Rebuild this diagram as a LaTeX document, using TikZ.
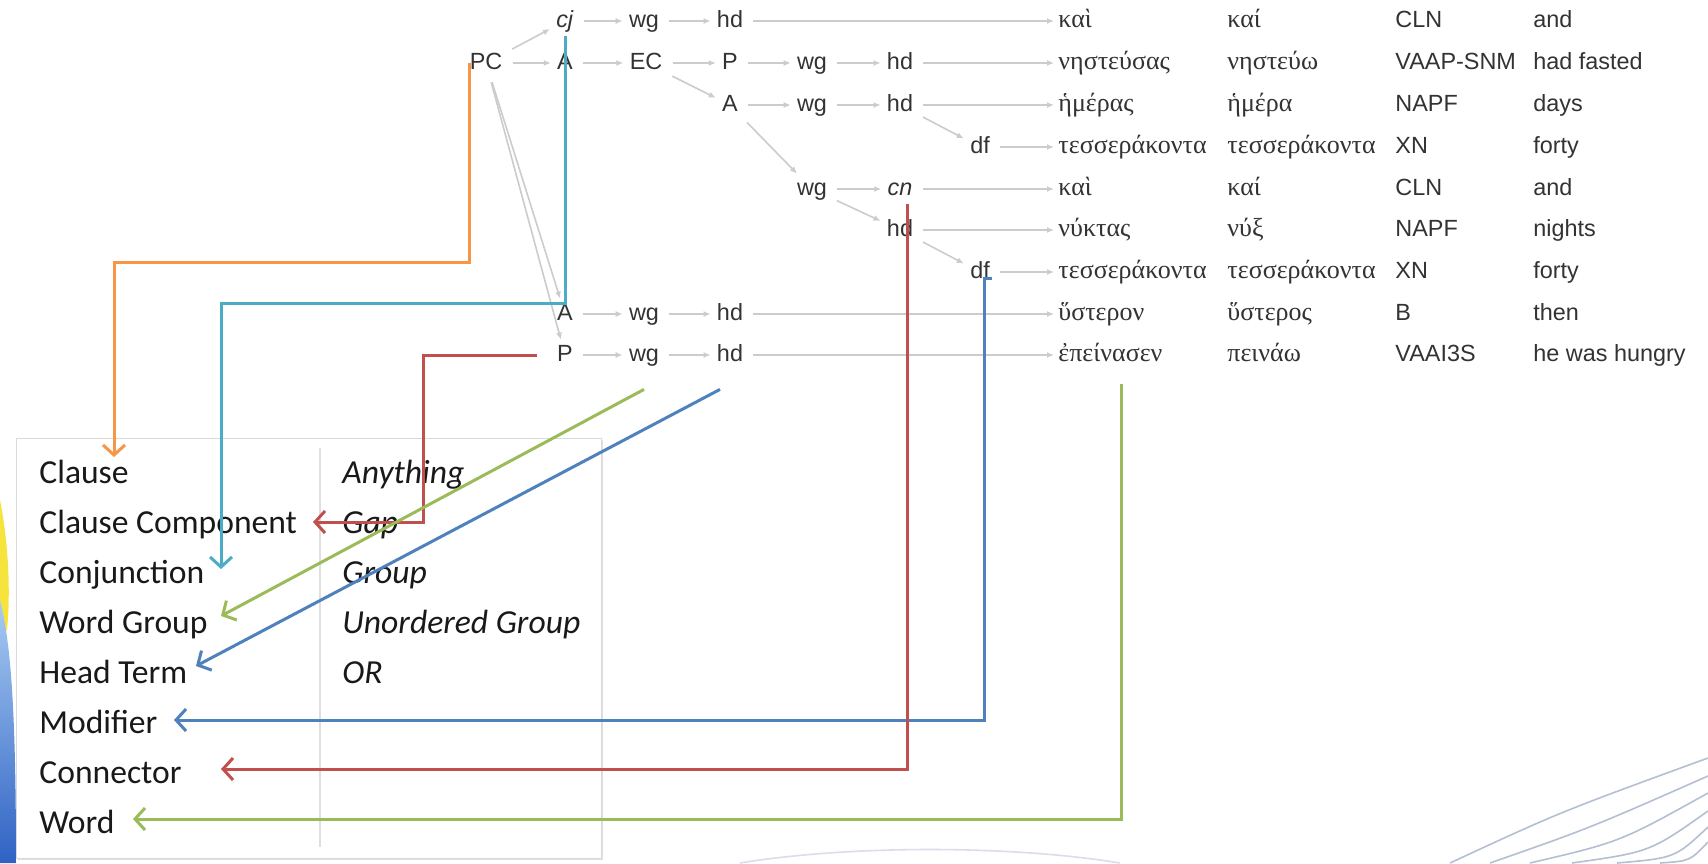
\documentclass[tikz,border=0pt]{standalone}
\usepackage{fontspec}
\setmainfont{Liberation Sans}
\newfontfamily\greekfont{Liberation Serif}
\newfontfamily\legendfont{Carlito}
\usetikzlibrary{arrows.meta}
\usetikzlibrary{shadows}
\definecolor{cOrange}{HTML}{F79646}
\definecolor{cCyan}{HTML}{4BACC6}
\definecolor{cRed}{HTML}{C0504D}
\definecolor{cGreen}{HTML}{9BBB59}
\definecolor{cBlue}{HTML}{4F81BD}
\definecolor{cSwoosh}{HTML}{B4BFD2}
\definecolor{cStripTop}{HTML}{A9CCF2}
\definecolor{cStripBot}{HTML}{2F62C4}
\definecolor{cStripYel}{HTML}{F6E43C}

\begin{document}
\begin{tikzpicture}[x=0.5pt,y=-0.5pt,
    tr/.style={inner xsep=3pt,inner ysep=2pt,text height=8.5pt,text depth=2.5pt,
      font=\fontsize{11.7}{14}\selectfont,text=black!80},
    gr/.style={tr,anchor=west,inner xsep=2pt,font=\greekfont\fontsize{13}{14}\selectfont},
    col/.style={tr,anchor=west,inner xsep=0pt},
    ln/.style={draw=gray!40,line width=0.8pt,-{Latex[length=3.5pt,width=3pt]},shorten <=2pt},
    lg/.style={anchor=base west,inner sep=0pt,font=\legendfont\fontsize{16.8}{20}\selectfont,text=black!90},
    lgi/.style={lg,font=\legendfont\itshape\fontsize{16.8}{20}\selectfont},
    lk/.style={line width=1.5pt,-{Straight Barb[length=5pt,width=11pt]}},
    swoosh/.style={draw=cSwoosh,line width=0.8pt}]
  \useasboundingbox (0,0) rectangle (1708,863);
  \fill[white] (0,0) rectangle (1708,863);

  \fill[cStripYel]
    (0,500) .. controls (8,540) and (11,590) .. (7,630) -- (0,630) -- cycle;
  \shade[top color=cStripTop,bottom color=cStripBot]
    (0,600) .. controls (10,640) and (16,700) .. (16,863) -- (0,863) -- cycle;
  \draw[swoosh]
    (1450,863) .. controls (1560,812) .. (1708,758)
    (1490,863) .. controls (1590,828) .. (1708,776)
    (1530,863) .. controls (1620,842) .. (1708,793)
    (1572,863) .. controls (1650,852) .. (1708,811)
    (1617,863) .. controls (1675,858) .. (1708,827)
    (1660,863) .. controls (1690,861) .. (1708,842);
  \draw[swoosh,opacity=0.5]
    (740,863) .. controls (850,845) and (1010,845) .. (1120,863);

  \node[tr] (pc) at (486,63) {PC};
  \node[tr] (cj) at (565,21) {\textit{cj}};
  \node[tr] (wgA) at (644,21) {wg};
  \node[tr] (hdA) at (730,21) {hd};
  \node[tr] (aOne) at (565,63) {A};
  \node[tr] (ec) at (646,63) {EC};
  \node[tr] (pTwo) at (730,63) {P};
  \node[tr] (wgB) at (812,63) {wg};
  \node[tr] (hdB) at (900,63) {hd};
  \node[tr] (aTwo) at (730,105) {A};
  \node[tr] (wgC) at (812,105) {wg};
  \node[tr] (hdC) at (900,105) {hd};
  \node[tr] (dfC) at (980,147) {df};
  \node[tr] (wgD) at (812,189) {wg};
  \node[tr] (cnD) at (900,189) {\textit{cn}};
  \node[tr] (hdE) at (900,230) {hd};
  \node[tr] (dfE) at (980,272) {df};
  \node[tr] (aSeven) at (565,314) {A};
  \node[tr] (wgF) at (644,314) {wg};
  \node[tr] (hdF) at (730,314) {hd};
  \node[tr] (pEight) at (565,355) {P};
  \node[tr] (wgG) at (644,355) {wg};
  \node[tr] (hdG) at (730,355) {hd};

  \node[gr] (w0) at (1054,21) {καὶ};
  \node[gr] (w1) at (1054,63) {νηστεύσας};
  \node[gr] (w2) at (1054,105) {ἡμέρας};
  \node[gr] (w3) at (1054,147) {τεσσεράκοντα};
  \node[gr] (w4) at (1054,189) {καὶ};
  \node[gr] (w5) at (1054,230) {νύκτας};
  \node[gr] (w6) at (1054,272) {τεσσεράκοντα};
  \node[gr] (w7) at (1054,314) {ὕστερον};
  \node[gr] (w8) at (1054,355) {ἐπείνασεν};

  \node[gr] (l0) at (1223,21) {καί};
  \node[gr] (l1) at (1223,63) {νηστεύω};
  \node[gr] (l2) at (1223,105) {ἡμέρα};
  \node[gr] (l3) at (1223,147) {τεσσεράκοντα};
  \node[gr] (l4) at (1223,189) {καί};
  \node[gr] (l5) at (1223,230) {νύξ};
  \node[gr] (l6) at (1223,272) {τεσσεράκοντα};
  \node[gr] (l7) at (1223,314) {ὕστερος};
  \node[gr] (l8) at (1223,355) {πεινάω};

  \node[col] (m0) at (1395,21) {CLN};
  \node[col] (m1) at (1395,63) {VAAP-SNM};
  \node[col] (m2) at (1395,105) {NAPF};
  \node[col] (m3) at (1395,147) {XN};
  \node[col] (m4) at (1395,189) {CLN};
  \node[col] (m5) at (1395,230) {NAPF};
  \node[col] (m6) at (1395,272) {XN};
  \node[col] (m7) at (1395,314) {B};
  \node[col] (m8) at (1395,355) {VAAI3S};

  \node[col] (g0) at (1533,21) {and};
  \node[col] (g1) at (1533,63) {had fasted};
  \node[col] (g2) at (1533,105) {days};
  \node[col] (g3) at (1533,147) {forty};
  \node[col] (g4) at (1533,189) {and};
  \node[col] (g5) at (1533,230) {nights};
  \node[col] (g6) at (1533,272) {forty};
  \node[col] (g7) at (1533,314) {then};
  \node[col] (g8) at (1533,355) {he was hungry};

  \draw[ln] (pc) -- (cj);
  \draw[ln] (pc) -- (aOne);
  \draw[ln] (pc) -- (aSeven);
  \draw[ln] (pc) -- (pEight);
  \draw[ln] (cj) -- (wgA);
  \draw[ln] (wgA) -- (hdA);
  \draw[ln] (aOne) -- (ec);
  \draw[ln] (ec) -- (pTwo);
  \draw[ln] (pTwo) -- (wgB);
  \draw[ln] (wgB) -- (hdB);
  \draw[ln] (ec) -- (aTwo);
  \draw[ln] (aTwo) -- (wgC);
  \draw[ln] (wgC) -- (hdC);
  \draw[ln] (hdC) -- (dfC);
  \draw[ln] (aTwo) -- (wgD);
  \draw[ln] (wgD) -- (cnD);
  \draw[ln] (wgD) -- (hdE);
  \draw[ln] (hdE) -- (dfE);
  \draw[ln] (aSeven) -- (wgF);
  \draw[ln] (wgF) -- (hdF);
  \draw[ln] (pEight) -- (wgG);
  \draw[ln] (wgG) -- (hdG);
  \draw[ln] (hdA) -- (w0);
  \draw[ln] (hdB) -- (w1);
  \draw[ln] (hdC) -- (w2);
  \draw[ln] (dfC) -- (w3);
  \draw[ln] (cnD) -- (w4);
  \draw[ln] (hdE) -- (w5);
  \draw[ln] (dfE) -- (w6);
  \draw[ln] (hdF) -- (w7);
  \draw[ln] (hdG) -- (w8);

  \draw[draw=gray!30,fill=white,
    drop shadow={opacity=0.25,shadow xshift=1pt,shadow yshift=-1pt}]
    (16,438) rectangle (601,858);
  \draw[gray!25,line width=1pt] (320,448) -- (320,847);

  \node[lg] (lgClause) at (39,483) {Clause};
  \node[lg] (lgCC) at (39,533) {Clause Component};
  \node[lg] (lgConj) at (39,583) {Conjunction};
  \node[lg] (lgWG) at (39,633) {Word Group};
  \node[lg] (lgHT) at (39,683) {Head Term};
  \node[lg] (lgMod) at (39,733) {Modifier};
  \node[lg] (lgConn) at (39,783) {Connector};
  \node[lg] (lgWord) at (39,833) {Word};
  \node[lgi] (lgAny) at (342,483) {Anything};
  \node[lgi] (lgGap) at (342,533) {Gap};
  \node[lgi] (lgGroup) at (342,583) {Group};
  \node[lgi] (lgUG) at (342,633) {Unordered Group};
  \node[lgi] (lgOR) at (342,683) {OR};

  \coordinate (toClause) at (114,457);
  \coordinate (toCC) at (313,522);
  \coordinate (toConj) at (221,569);
  \coordinate (toWG) at (221,616);
  \coordinate (toHT) at (196,666);
  \coordinate (toMod) at (174,720);
  \coordinate (toConn) at (221,769);
  \coordinate (toWord) at (133,819);

  \draw[lk,cOrange] ([xshift=3pt]pc.west) |- (114,262) -- (toClause);
  \draw[lk,cCyan] (cj.south) |- (221,303) -- (toConj);
  \draw[lk,cRed] ([xshift=-7pt]pEight.west) -| (423,522) -- (toCC);
  \draw[lk,cGreen] ([yshift=-9.5pt]wgG.south) -- (toWG);
  \draw[lk,cBlue] ([xshift=-5pt,yshift=-9.5pt]hdG.south) -- (toHT);
  \draw[lk,cBlue] ([xshift=-2pt,yshift=-3pt]dfE.east) -- ++(-8,0) |- (toMod);
  \draw[lk,cRed] ([xshift=3.5pt]cnD.south) |- (toConn);
  \draw[lk,cGreen] ([xshift=5.5pt,yshift=-7pt]w8.south) |- (toWord);
\end{tikzpicture}
\end{document}
